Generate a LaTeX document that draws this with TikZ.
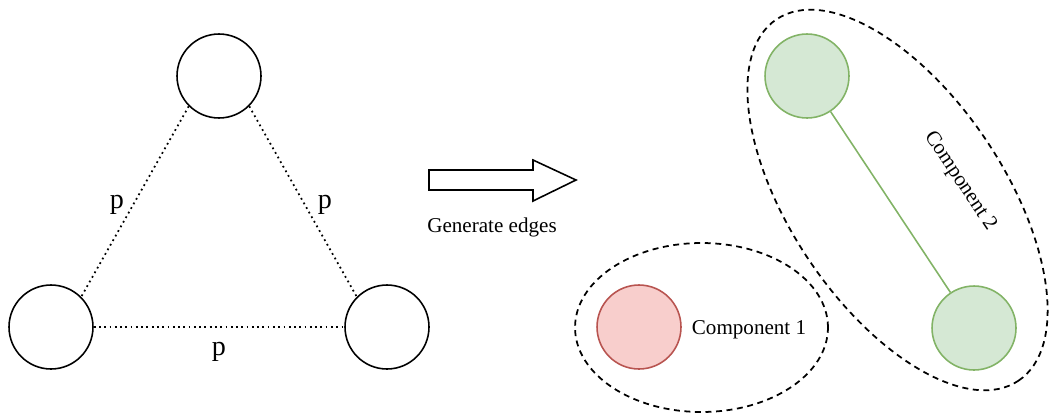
\documentclass[tikz,border=0pt]{standalone}
\usepackage{fontspec}
\setmainfont{Liberation Serif}
\usetikzlibrary{shapes.geometric}
\definecolor{greenfill}{HTML}{D5E8D4}
\definecolor{greenline}{HTML}{82B366}
\definecolor{redfill}{HTML}{F8CECC}
\definecolor{redline}{HTML}{B85450}
\begin{document}
\begin{tikzpicture}
  [x=0.02cm,y=-0.02cm,
  every node/.style={font=\fontsize{12}{14}\selectfont},
  vertex/.style={circle,draw,line width=0.9pt,minimum size=1.68cm,inner sep=0pt},
  plabel/.style={font=\fontsize{16}{18}\selectfont},
  maybe/.style={dotted,line width=1pt},
  group/.style={ellipse,draw,line width=1pt,dash pattern=on 3.4pt off 2.6pt,inner sep=0pt}]
\useasboundingbox (0,0) rectangle (1050,416);
% random graph before
\node[vertex] (top) at (219,76) {};
\node[vertex] (left) at (51,327) {};
\node[vertex] (right) at (387,327) {};
\draw[maybe] (top.south west) -- (left.north east);
\draw[maybe] (top.south east) -- (right.north west);
\draw[maybe] (left.east) -- (right.west);
\node[plabel] (pl) at (117,205) {p};
\node[plabel] (pr) at (325,205) {p};
\node[plabel] (pb) at (219,352) {p};
% step arrow
\draw[line width=0.9pt] (429,170) -- (533,170) -- (533,160) -- (576,180)
  -- (533,201) -- (533,190) -- (429,190) -- cycle;
\node (gen) at (492,227) {Generate edges};
% graph after
\node[vertex,draw=redline,fill=redfill] (red) at (639,327) {};
\node (c1) at (749,330) {Component 1};
\node[group,minimum width=5.06cm,minimum height=3.38cm] (g1) at (701.5,327.5) {};
\node[vertex,draw=greenline,fill=greenfill] (ga) at (807,76) {};
\node[vertex,draw=greenline,fill=greenfill] (gb) at (974,328) {};
\draw[greenline,line width=0.9pt] (ga) -- (gb);
\node[rotate=-56.3] (c2) at (960,181) {Component 2};
\node[group,minimum width=8.7cm,minimum height=4.28cm,rotate=-56.2] (g2) at (897.5,200) {};
\end{tikzpicture}
\end{document}
